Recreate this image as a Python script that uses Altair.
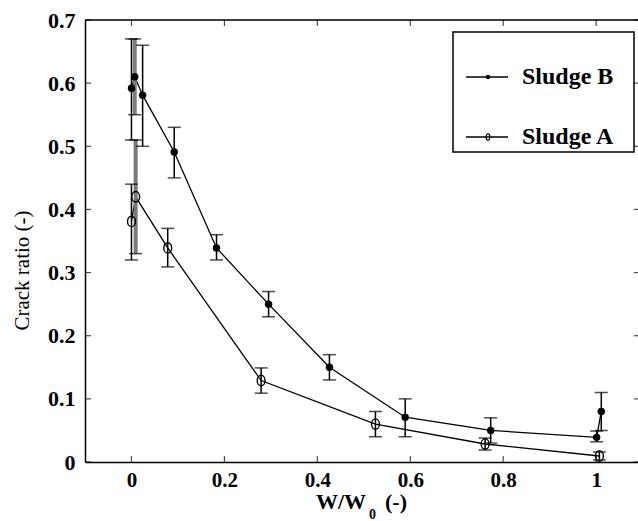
import altair as alt
import pandas as pd

# ---- data ----
series_names = ["Sludge B", "Sludge A"]

b_x = [0.0, 0.007, 0.024, 0.092, 0.183, 0.295, 0.426, 0.589, 0.773, 1.001, 1.011]
b_y = [0.592, 0.610, 0.581, 0.491, 0.339, 0.250, 0.150, 0.071, 0.050, 0.039, 0.080]
b_lo = [0.51, 0.55, 0.50, 0.45, 0.32, 0.23, 0.13, 0.04, 0.03, 0.032, 0.05]
b_hi = [0.67, 0.67, 0.66, 0.53, 0.36, 0.27, 0.17, 0.10, 0.07, 0.049, 0.11]

a_x = [0.0, 0.009, 0.078, 0.279, 0.525, 0.761, 1.007]
a_y = [0.381, 0.420, 0.339, 0.129, 0.060, 0.0285, 0.0095]
a_lo = [0.32, 0.33, 0.309, 0.109, 0.04, 0.019, 0.003]
a_hi = [0.44, 0.51, 0.370, 0.149, 0.08, 0.038, 0.016]

x_ticks = [0, 0.2, 0.4, 0.6, 0.8, 1]
y_ticks = [0, 0.1, 0.2, 0.3, 0.4, 0.5, 0.6, 0.7]
x_domain = [-0.1, 1.09]
y_domain = [0, 0.7]

x_title_parts = ["W/W", "0", "(-)"]
y_title = "Crack ratio (-)"

FONT = "Liberation Serif"

b = pd.DataFrame({"x": b_x, "y": b_y, "lo": b_lo, "hi": b_hi})
b["idx"] = range(len(b))
a = pd.DataFrame({"x": a_x, "y": a_y, "lo": a_lo, "hi": a_hi})
a["idx"] = range(len(a))

x_scale = alt.Scale(domain=x_domain, nice=False, zero=False)
y_scale = alt.Scale(domain=y_domain, nice=False, zero=False)

x_axis = alt.Axis(values=x_ticks, format="~g", tickSize=0, domain=True,
                  domainColor="black", domainWidth=1.5, grid=False,
                  labelFont=FONT, labelFontSize=21, labelFontWeight="bold",
                  labelColor="black", labelPadding=7, labelFlush=False,
                  title="")
y_axis = alt.Axis(values=y_ticks, format="~g", tickSize=0, domain=True,
                  domainColor="black", domainWidth=1.5, grid=False,
                  labelFont=FONT, labelFontSize=22, labelFontWeight="bold",
                  labelColor="black", labelPadding=10, labelFlush=False,
                  title=y_title, titleFont=FONT, titleFontSize=21,
                  titleFontWeight="normal", titleColor="black",
                  titleX=-63, titleY=250, titleAngle=270,
                  titleAlign="center", titleBaseline="middle")


def X(field):
    return alt.X(field, scale=x_scale, axis=x_axis)


def Y(field):
    return alt.Y(field, scale=y_scale, axis=y_axis)


ELLIPSE = "M-0.75,0 A0.75,1 0 1,0 0.75,0 A0.75,1 0 1,0 -0.75,0 Z"


def series_layers(df, filled):
    line = alt.Chart(df).mark_line(color="black", strokeWidth=1.3).encode(
        x=X("x:Q"), y=Y("y:Q"), order="idx:Q")
    bars = alt.Chart(df).mark_rule().encode(
        x=X("x:Q"), y=Y("lo:Q"), y2="hi:Q",
        color=alt.condition(alt.datum.idx == 1, alt.value("#7a7a7a"), alt.value("black")),
        strokeWidth=alt.condition(alt.datum.idx == 1, alt.value(4), alt.value(1.5)))
    cap_lo = alt.Chart(df).mark_tick(orient="horizontal", size=13, thickness=1.5,
                                     color="black").encode(x=X("x:Q"), y=Y("lo:Q"))
    cap_hi = alt.Chart(df).mark_tick(orient="horizontal", size=13, thickness=1.5,
                                     color="black").encode(x=X("x:Q"), y=Y("hi:Q"))
    if filled:
        pts = alt.Chart(df).mark_point(shape="circle", filled=True, color="black",
                                       size=55, opacity=1).encode(x=X("x:Q"), y=Y("y:Q"))
    else:
        pts = alt.Chart(df).mark_point(shape=ELLIPSE, filled=False,
                                       stroke="black", strokeWidth=1.4, size=110,
                                       opacity=1).encode(x=X("x:Q"), y=Y("y:Q"))
    return [line, bars, cap_lo, cap_hi, pts]


xt = pd.DataFrame({"v": x_ticks})
yt = pd.DataFrame({"v": y_ticks})
one = pd.DataFrame({"k": [0]})

tick_bottom = alt.Chart(xt).mark_tick(orient="vertical", size=6, thickness=1.2,
                                      color="black", yOffset=-3).encode(
    x=X("v:Q"), y=alt.YDatum(y_domain[0], scale=y_scale, axis=y_axis))
tick_top = alt.Chart(xt).mark_tick(orient="vertical", size=6, thickness=1.2,
                                   color="black", yOffset=3).encode(
    x=X("v:Q"), y=alt.YDatum(y_domain[1], scale=y_scale, axis=y_axis))
tick_left = alt.Chart(yt).mark_tick(orient="horizontal", size=6, thickness=1.2,
                                    color="black", xOffset=3).encode(
    y=Y("v:Q"), x=alt.XDatum(x_domain[0], scale=x_scale, axis=x_axis))
tick_right = alt.Chart(yt).mark_tick(orient="horizontal", size=6, thickness=1.2,
                                     color="black", xOffset=-1).encode(
    y=Y("v:Q"), x=alt.XDatum(x_domain[1], scale=x_scale, axis=x_axis))
top_border = alt.Chart(one).mark_rule(color="black", strokeWidth=1.5).encode(
    x=alt.XDatum(x_domain[0], scale=x_scale, axis=x_axis),
    x2=alt.X2Datum(x_domain[1]),
    y=alt.YDatum(y_domain[1], scale=y_scale, axis=y_axis))

# ---- x axis title with a real subscript ----
xt_main = alt.Chart(one).mark_text(text=x_title_parts[0], font=FONT, fontSize=22,
                                   fontWeight="bold", align="right",
                                   baseline="alphabetic", color="black").encode(
    x=alt.value(281), y=alt.value(489))
xt_sub = alt.Chart(one).mark_text(text=x_title_parts[1], font=FONT, fontSize=14,
                                  fontWeight="bold", align="left",
                                  baseline="alphabetic", color="black").encode(
    x=alt.value(284), y=alt.value(499))
xt_tail = alt.Chart(one).mark_text(text=x_title_parts[2], font=FONT, fontSize=22,
                                   fontWeight="bold", align="left",
                                   baseline="alphabetic", color="black").encode(
    x=alt.value(300), y=alt.value(489))

# ---- legend (drawn) ----
leg_box = alt.Chart(one).mark_rect(fill="white", stroke="black", strokeWidth=1.5).encode(
    x=alt.value(368), x2=alt.value(549), y=alt.value(12), y2=alt.value(132))
leg_layers = [leg_box]
for i, (name, ypx) in enumerate(zip(series_names, [57, 117])):
    leg_layers.append(alt.Chart(one).mark_rule(color="black", strokeWidth=1.3).encode(
        x=alt.value(381), x2=alt.value(423), y=alt.value(ypx)))
    if i == 0:
        leg_layers.append(alt.Chart(one).mark_point(shape="circle", filled=True, color="black",
                                                    size=22, opacity=1).encode(
            x=alt.value(403), y=alt.value(ypx)))
    else:
        leg_layers.append(alt.Chart(one).mark_point(
            shape="M-0.6,0 A0.6,1 0 1,0 0.6,0 A0.6,1 0 1,0 -0.6,0 Z",
            filled=False, stroke="black", strokeWidth=1.2,
            size=40, opacity=1).encode(x=alt.value(403), y=alt.value(ypx)))
    leg_layers.append(alt.Chart(one).mark_text(text=name, font=FONT, fontSize=24,
                                               fontWeight="bold",
                                               align="left", baseline="middle",
                                               color="black").encode(
        x=alt.value(437), y=alt.value(ypx)))

layers = ([top_border, tick_bottom, tick_top, tick_left, tick_right]
          + series_layers(a, False) + series_layers(b, True)
          + [xt_main, xt_sub, xt_tail] + leg_layers)

chart = alt.layer(*layers).properties(
    width=553, height=442,
    autosize=alt.AutoSizeParams(type="none"),
    padding={"left": 85, "top": 20, "right": 0, "bottom": 59},
).configure_view(stroke=None).configure(background="white")

chart.save("out.html", embed_options={"renderer": "svg", "actions": False})
